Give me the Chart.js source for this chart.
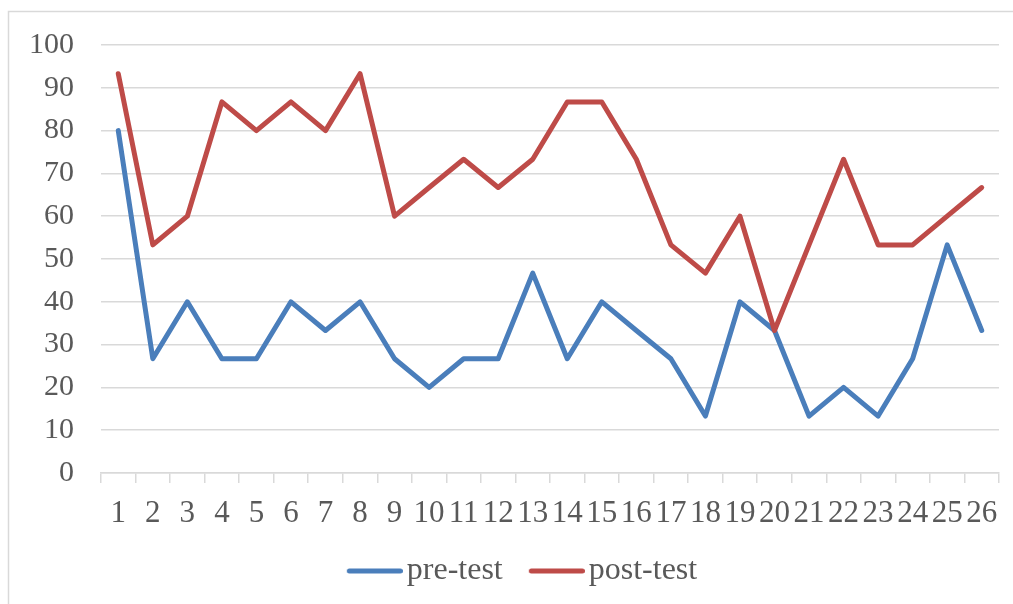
<!DOCTYPE html>
<html>
<head>
<meta charset="utf-8">
<script src="https://cdn.jsdelivr.net/npm/chart.js@4/dist/chart.umd.min.js"></script>
<style>
  html, body { margin: 0; padding: 0; background: #ffffff; overflow: hidden; }
  #wrap { position: relative; width: 1013px; height: 604px; }
</style>
</head>
<body>
<div id="wrap"><canvas id="c" width="1013" height="604"></canvas></div>
<script>
const categories = ["1","2","3","4","5","6","7","8","9","10","11","12","13","14","15","16","17","18","19","20","21","22","23","24","25","26"];
const preTest = [80, 26.7, 40, 26.7, 26.7, 40, 33.3, 40, 26.7, 20, 26.7, 26.7, 46.7, 26.7, 40, 33.3, 26.7, 13.3, 40, 33.3, 13.3, 20, 13.3, 26.7, 53.3, 33.3];
const postTest = [93.3, 53.3, 60, 86.7, 80, 86.7, 80, 93.3, 60, 66.7, 73.3, 66.7, 73.3, 86.7, 86.7, 73.3, 53.3, 46.7, 60, 33.3, 53.3, 73.3, 53.3, 53.3, 60, 66.7];
const seriesNames = ["pre-test", "post-test"];
const seriesColors = ["#4A7EBB", "#BE4B48"];
const yTicks = { min: 0, max: 100, step: 10 };

// legend swatch: a line drawn into a small canvas
function legendSwatch(color) {
  const W = 86, H = 10;
  const cv = document.createElement('canvas');
  cv.width = W; cv.height = H;
  const g = cv.getContext('2d');
  g.strokeStyle = color;
  g.lineWidth = 5;
  g.lineCap = 'round';
  g.beginPath();
  g.moveTo(30 + 2.5, H / 2);
  g.lineTo(W - 2.5, H / 2);
  g.stroke();
  return cv;
}

const frame = {
  id: 'frame',
  beforeDraw(chart) {
    const ctx = chart.ctx;
    ctx.save();
    ctx.fillStyle = '#ffffff';
    ctx.fillRect(0, 0, chart.width, chart.height);
    ctx.strokeStyle = '#D9D9D9';
    ctx.lineWidth = 1.5;
    ctx.strokeRect(8.5, 11.5, 2000, 2000);
    ctx.restore();
  }
};

const FONT = "'Liberation Serif', 'Times New Roman', serif";

new Chart(document.getElementById('c'), {
  type: 'line',
  data: {
    labels: categories,
    datasets: [
      {
        label: seriesNames[0],
        data: preTest,
        borderColor: seriesColors[0],
        backgroundColor: seriesColors[0],
        borderWidth: 5,
        borderCapStyle: 'round',
        borderJoinStyle: 'round',
        pointRadius: 0,
        pointHoverRadius: 0,
        pointStyle: legendSwatch(seriesColors[0]),
        tension: 0,
        fill: false,
        order: 1
      },
      {
        label: seriesNames[1],
        data: postTest,
        borderColor: seriesColors[1],
        backgroundColor: seriesColors[1],
        borderWidth: 5,
        borderCapStyle: 'round',
        borderJoinStyle: 'round',
        pointRadius: 0,
        pointHoverRadius: 0,
        pointStyle: legendSwatch(seriesColors[1]),
        tension: 0,
        fill: false,
        order: 0
      }
    ]
  },
  options: {
    responsive: false,
    animation: false,
    devicePixelRatio: 1,
    layout: { padding: { left: 27, right: 14, top: 36, bottom: 7 } },
    plugins: {
      tooltip: { enabled: false },
      legend: {
        position: 'bottom',
        labels: {
          usePointStyle: true,
          pointStyleWidth: 62,
          padding: 8,
          color: '#595959',
          font: { family: FONT, size: 32 },
          sort: (a, b) => a.datasetIndex - b.datasetIndex
        }
      }
    },
    scales: {
      x: {
        offset: true,
        grid: {
          display: true,
          drawOnChartArea: false,
          drawTicks: true,
          tickLength: 10,
          color: '#D9D9D9',
          lineWidth: 1.5,
          offset: true
        },
        border: { display: true, color: '#D9D9D9', width: 1.5 },
        ticks: {
          color: '#595959',
          font: { family: FONT, size: 31 },
          padding: 12,
          autoSkip: false,
          maxRotation: 0,
          minRotation: 0
        },
        afterFit(scale) { scale.height = 74; }
      },
      y: {
        min: yTicks.min,
        max: yTicks.max,
        grid: {
          color: '#D9D9D9',
          lineWidth: 1.5,
          drawTicks: false
        },
        border: { display: false },
        ticks: {
          stepSize: yTicks.step,
          color: '#595959',
          font: { family: FONT, size: 30 },
          padding: 27
        },
        afterFit(scale) { scale.width = 74; }
      }
    }
  },
  plugins: [frame]
});
</script>
</body>
</html>
